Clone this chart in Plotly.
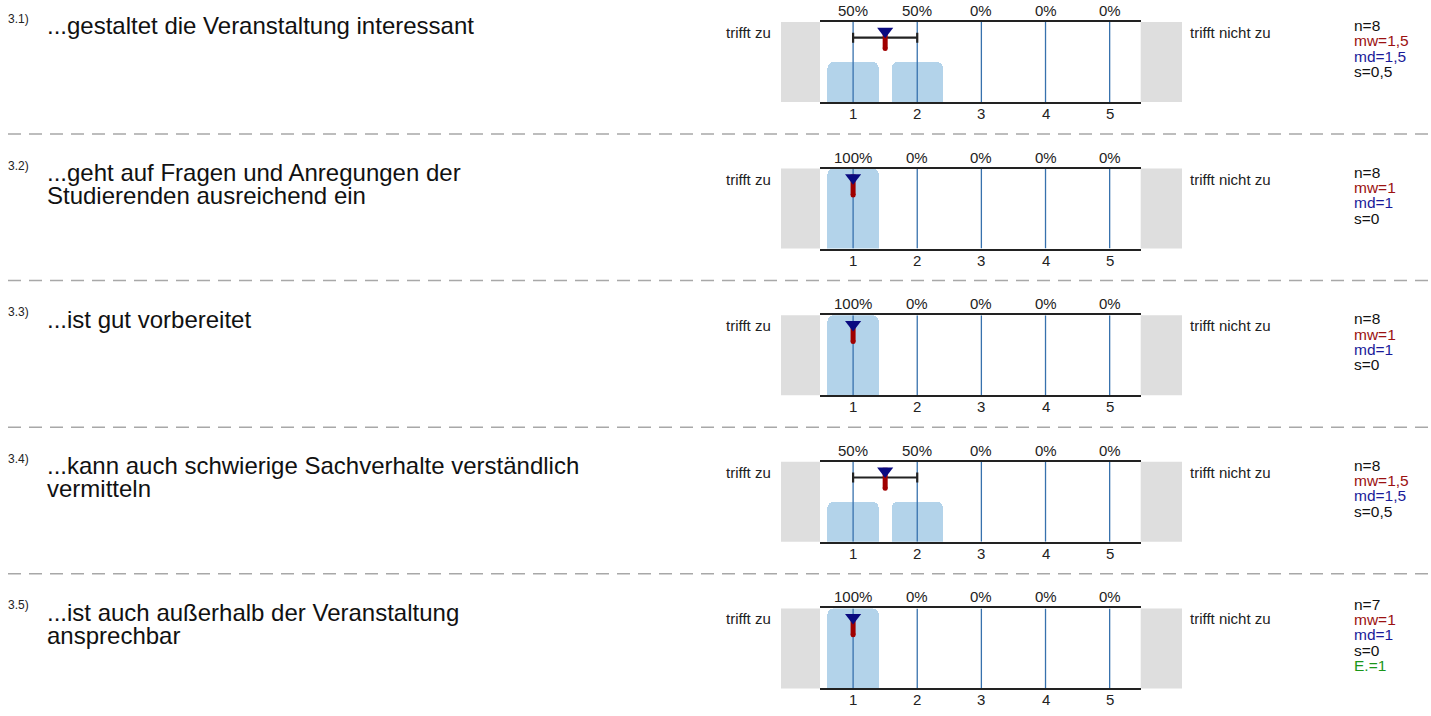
import plotly.graph_objects as go

# ---------------- data ----------------
numbers = ["3.1)", "3.2)", "3.3)", "3.4)", "3.5)"]
questions = [
    ["...gestaltet die Veranstaltung interessant"],
    ["...geht auf Fragen und Anregungen der", "Studierenden ausreichend ein"],
    ["...ist gut vorbereitet"],
    ["...kann auch schwierige Sachverhalte verständlich", "vermitteln"],
    ["...ist auch außerhalb der Veranstaltung", "ansprechbar"],
]
scale = [1, 2, 3, 4, 5]
percents = [
    [50, 50, 0, 0, 0],
    [100, 0, 0, 0, 0],
    [100, 0, 0, 0, 0],
    [50, 50, 0, 0, 0],
    [100, 0, 0, 0, 0],
]
n_vals = [8, 8, 8, 8, 7]
mw_vals = [1.5, 1, 1, 1.5, 1]
md_vals = [1.5, 1, 1, 1.5, 1]
s_vals = [0.5, 0, 0, 0.5, 0]
e_vals = [None, None, None, None, 1]
left_label = "trifft zu"
right_label = "trifft nicht zu"

# ---------------- layout helpers ----------------
W, H = 1431, 716
FONT = "Liberation Sans, Arial, sans-serif"
ROW0, PITCH, PH = 22, 146.6, 80
XL, XR = 820, 1140.7


def px(x):
    return x / W


def py(y):
    return 1 - y / H


def fmt(v):
    return ("%g" % v).replace(".", ",")


fig = go.Figure()
shapes, annotations = [], []
layout_axes = {}

for i in range(5):
    top = ROW0 + i * PITCH
    bot = top + PH
    xa = "x" if i == 0 else f"x{i+1}"
    ya = "y" if i == 0 else f"y{i+1}"
    xkey = "xaxis" if i == 0 else f"xaxis{i+1}"
    ykey = "yaxis" if i == 0 else f"yaxis{i+1}"

    layout_axes[xkey] = dict(
        domain=[px(XL), px(XR)], anchor=ya, range=[0.484, 5.484],
        tickvals=scale, showticklabels=False,
        showgrid=False, zeroline=False, showline=True, mirror=True,
        linecolor="#222222", linewidth=2, ticks="", fixedrange=True,
    )
    layout_axes[ykey] = dict(
        domain=[py(bot), py(top)], anchor=xa, range=[0, 100],
        showgrid=False, zeroline=False, showline=False,
        showticklabels=False, ticks="", fixedrange=True,
    )

    # bars
    fig.add_trace(go.Bar(
        x=scale, y=percents[i], xaxis=xa, yaxis=ya, width=0.8,
        marker=dict(color="#b3d3ea", line=dict(width=0), cornerradius=6),
        showlegend=False, hoverinfo="skip",
    ))
    # vertical grid lines above bars
    gx, gy = [], []
    for t in scale:
        gx += [t, t, None]
        gy += [0, 100, None]
    fig.add_trace(go.Scatter(
        x=gx, y=gy, xaxis=xa, yaxis=ya, mode="lines",
        line=dict(color="#3771ad", width=1.3),
        showlegend=False, hoverinfo="skip",
    ))
    # std-dev error bar
    if s_vals[i] > 0:
        fig.add_trace(go.Scatter(
            x=[mw_vals[i]], y=[80.4], xaxis=xa, yaxis=ya, mode="markers",
            marker=dict(size=1, opacity=0),
            error_x=dict(type="data", array=[s_vals[i]], color="#222222",
                         thickness=2.2, width=5),
            showlegend=False, hoverinfo="skip",
        ))
    # mean line (red)
    fig.add_trace(go.Scatter(
        x=[mw_vals[i], mw_vals[i]], y=[92.5, 67.0], xaxis=xa, yaxis=ya,
        mode="lines", line=dict(color="#a00000", width=5),
        showlegend=False, hoverinfo="skip",
    ))
    fig.add_trace(go.Scatter(
        x=[mw_vals[i]], y=[67.0], xaxis=xa, yaxis=ya, mode="markers",
        marker=dict(symbol="circle", size=5, color="#a00000"),
        showlegend=False, hoverinfo="skip",
    ))
    # median triangle (blue)
    fig.add_trace(go.Scatter(
        x=[md_vals[i]], y=[88.5], xaxis=xa, yaxis=ya, mode="markers",
        marker=dict(symbol="triangle-down", size=14, color="#0a0a80",
                    line=dict(width=0)),
        showlegend=False, hoverinfo="skip",
    ))

    # percentage labels (top) and scale labels (bottom)
    for k, p in zip(scale, percents[i]):
        annotations.append(dict(
            x=k, y=1, xref=xa, yref=f"{ya} domain", yanchor="bottom",
            yshift=1, text=f"{p}%", showarrow=False,
            font=dict(family=FONT, size=15, color="#222"),
        ))
        annotations.append(dict(
            x=k, y=0, xref=xa, yref=f"{ya} domain", yanchor="top",
            yshift=-1, text=str(k), showarrow=False,
            font=dict(family=FONT, size=15, color="#222"),
        ))

    # grey side boxes
    for x0, x1 in [(781, XL), (XR, 1182)]:
        shapes.append(dict(
            type="rect", xref="paper", yref="paper",
            x0=px(x0), x1=px(x1), y0=py(bot), y1=py(top),
            fillcolor="#dedede", line=dict(width=0), layer="below",
        ))

    # side labels
    annotations.append(dict(
        x=px(773), y=py(top + 10.5), xref="paper", yref="paper",
        xanchor="right", yanchor="middle", text=left_label, showarrow=False,
        font=dict(family=FONT, size=15, color="#222"),
    ))
    annotations.append(dict(
        x=px(1188), y=py(top + 10.5), xref="paper", yref="paper",
        xanchor="left", yanchor="middle", text=right_label, showarrow=False,
        font=dict(family=FONT, size=15, color="#222"),
    ))

    # question number & text
    annotations.append(dict(
        x=px(6), y=py(top - 3), xref="paper", yref="paper",
        xanchor="left", yanchor="middle", text=numbers[i], showarrow=False,
        font=dict(family=FONT, size=12, color="#222"),
    ))
    for j, line in enumerate(questions[i]):
        annotations.append(dict(
            x=px(45), y=py(top + 4 + j * 23), xref="paper", yref="paper",
            xanchor="left", yanchor="middle", text=line, showarrow=False,
            font=dict(family=FONT, size=24, color="#111"),
        ))

    # statistics
    stats = [(f"n={n_vals[i]}", "#111111"),
             (f"mw={fmt(mw_vals[i])}", "#9b1111"),
             (f"md={fmt(md_vals[i])}", "#1a1a99"),
             (f"s={fmt(s_vals[i])}", "#111111")]
    if e_vals[i] is not None:
        stats.append((f"E.={e_vals[i]}", "#1a961a"))
    cy = top + 26.5 - (len(stats) - 1) * 15.3 / 2
    for j, (txt, col) in enumerate(stats):
        annotations.append(dict(
            x=px(1352), y=py(cy + j * 15.3), xref="paper", yref="paper",
            xanchor="left", yanchor="middle", text=txt, showarrow=False,
            font=dict(family=FONT, size=15.5, color=col),
        ))

    # dashed separator
    if i < 4:
        ys = 134 + i * PITCH
        shapes.append(dict(
            type="line", xref="paper", yref="paper",
            x0=px(8), x1=1, y0=py(ys), y1=py(ys),
            line=dict(color="#a8a8a8", width=1.5, dash="13px,8px"),
        ))

fig.update_layout(
    width=W, height=H, margin=dict(l=0, r=0, t=0, b=0),
    paper_bgcolor="white", plot_bgcolor="white",
    shapes=shapes, annotations=annotations, showlegend=False,
    bargap=0, **layout_axes,
)

fig.write_html("out.html",
               config={"displayModeBar": False, "staticPlot": True},
               post_script="document.body.style.margin='0px';"
                           "document.body.style.overflow='hidden';")
